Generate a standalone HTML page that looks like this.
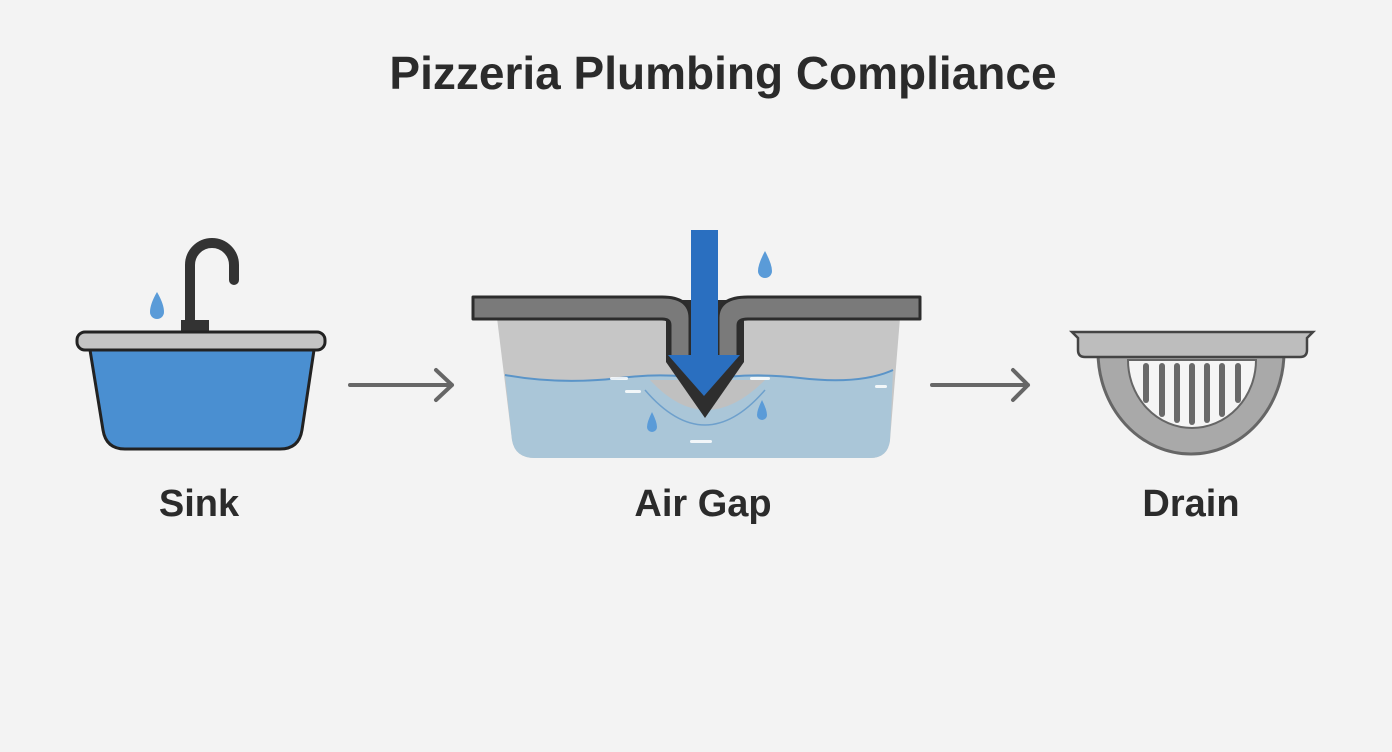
<!DOCTYPE html><html><head><style>body{margin:0;background:#f3f3f3}svg{display:block}text{font-family:"Liberation Sans","DejaVu Sans",sans-serif;font-weight:bold;fill:#2b2b2b;text-anchor:middle}</style></head><body>
<svg width="1392" height="752" viewBox="0 0 1392 752">
<rect width="1392" height="752" fill="#f3f3f3"/>
<text x="723" y="89" font-size="46">Pizzeria Plumbing Compliance</text>
<!-- Sink -->
<path d="M190 330 V265 A22 22 0 0 1 234 265 V280" fill="none" stroke="#333" stroke-width="10" stroke-linecap="round"/>
<rect x="181" y="320" width="28" height="14" fill="#333"/>
<path d="M157 292 Q150 304 150 312 A7 7 0 0 0 164 312 Q164 304 157 292Z" fill="#5a9bd8"/>
<path d="M90 350 L103 430 Q106 449 125 449 L280 449 Q299 449 302 430 L314 350Z" fill="#4a8fd1" stroke="#222" stroke-width="3"/>
<rect x="77" y="332" width="248" height="18" rx="8" fill="#c4c4c4" stroke="#222" stroke-width="3"/>
<!-- Air gap -->
<path d="M497 318 L512 440 Q515 458 535 458 L870 458 Q888 458 890 440 L900 318Z" fill="#c6c6c6"/>
<path d="M505 375 Q560 385 620 378 Q670 372 705 380 Q750 372 800 378 Q860 385 893 370 L890 440 Q888 458 870 458 L535 458 Q515 458 512 440Z" fill="#aac6d8"/>
<path d="M505 375 Q560 385 620 378 Q670 372 705 380 Q750 372 800 378 Q860 385 893 370" fill="none" stroke="#5a94c8" stroke-width="2"/>
<path d="M650 380 Q705 440 765 380" fill="#c0c0c0"/>
<path d="M645 390 Q705 460 765 390" fill="none" stroke="#6ea0cc" stroke-width="1.5"/>
<path d="M666 300 V362 L705 418 L744 362 V300Z" fill="#2e2e2e"/>
<path d="M473 297 H662 Q690 297 690 318 V360 H670 V325 Q670 319 662 319 H473Z" fill="#7a7a7a" stroke="#2c2c2c" stroke-width="3" stroke-linejoin="round"/>
<path d="M920 297 H748 Q718 297 718 318 V360 H738 V325 Q738 319 748 319 H920Z" fill="#7a7a7a" stroke="#2c2c2c" stroke-width="3" stroke-linejoin="round"/>
<rect x="691" y="230" width="27" height="130" fill="#2a6fc0"/>
<path d="M668 355 H740 L704 396Z" fill="#2a6fc0"/>
<path d="M765 251 Q758 264 758 271 A7 7 0 0 0 772 271 Q772 264 765 251Z" fill="#5a9bd8"/>
<path d="M652 412 Q647 422 647 427 A5 5 0 0 0 657 427 Q657 422 652 412Z" fill="#5a9bd8"/>
<path d="M762 400 Q757 410 757 415 A5 5 0 0 0 767 415 Q767 410 762 400Z" fill="#5a9bd8"/>
<g fill="#fff" opacity="0.85"><rect x="610" y="377" width="18" height="3" rx="1.5"/><rect x="625" y="390" width="16" height="3" rx="1.5"/><rect x="750" y="377" width="20" height="3" rx="1.5"/><rect x="690" y="440" width="22" height="3" rx="1.5"/><rect x="875" y="385" width="12" height="3" rx="1.5"/></g>
<!-- arrows -->
<g stroke="#666" stroke-width="4" fill="none" stroke-linecap="round" stroke-linejoin="round">
<path d="M350 385 H452 M436 370 L452 385 L436 400"/>
<path d="M932 385 H1028 M1013 370 L1028 385 L1013 400"/>
</g>
<!-- Drain -->
<path d="M1098 352 A93 102 0 0 0 1284 352Z" fill="#a9a9a9" stroke="#666" stroke-width="3"/>
<path d="M1128 360 A64 68 0 0 0 1256 360Z" fill="#f5f5f5" stroke="#666" stroke-width="2"/>
<g stroke="#6a6a6a" stroke-width="6" stroke-linecap="round">
<line x1="1146" y1="366" x2="1146" y2="400"/><line x1="1162" y1="366" x2="1162" y2="414"/><line x1="1177" y1="366" x2="1177" y2="420"/><line x1="1192" y1="366" x2="1192" y2="422"/><line x1="1207" y1="366" x2="1207" y2="420"/><line x1="1222" y1="366" x2="1222" y2="414"/><line x1="1238" y1="366" x2="1238" y2="400"/>
</g>
<path d="M1072 332 H1313 L1307 338 V350 Q1307 357 1300 357 H1085 Q1078 357 1078 350 V338Z" fill="#bdbdbd" stroke="#444" stroke-width="2.5"/>
<text x="199" y="516" font-size="38">Sink</text>
<text x="703" y="516" font-size="38">Air Gap</text>
<text x="1191" y="516" font-size="38">Drain</text>
</svg></body></html>
